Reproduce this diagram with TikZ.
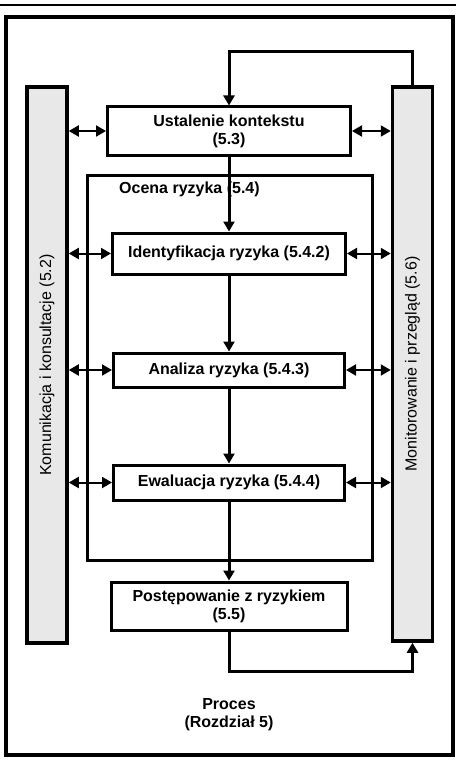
\documentclass[tikz,border=0pt]{standalone}
\usepackage{graphicx}
\usepackage{fontspec}
\setmainfont{Liberation Sans}
\usetikzlibrary{arrows.meta,positioning}

\begin{document}
\begin{tikzpicture}[x=1pt,y=-1pt,node distance=120pt,>={Triangle[length=10pt,width=11pt]},auto]

		\tikzstyle{krok}=[rectangle,draw=black,line width=3pt,fill=white,align=center,font=\bfseries\fontsize{16}{18}\selectfont]
		\tikzstyle{pasek}=[rectangle,draw=black,line width=3.5pt,fill=black!9,minimum width=40pt,font=\fontsize{16}{18}\selectfont]
		\tikzstyle{dwustr}=[<->,line width=2pt]
		\tikzstyle{przeplyw}=[->,line width=3pt]

		\useasboundingbox (0,0) rectangle (456,765);
		\draw [line width=2.5pt] (0,5) -- (456,5);

		\node [rectangle,draw=black,line width=4pt,minimum width=447pt,minimum height=738pt] (proces) at (229.5,386) {};
		\node [rectangle,draw=black,line width=3pt,minimum width=285pt,minimum height=385pt] (ocena) at (229.5,367.5) {};
		\node [anchor=west,inner sep=0pt,font=\bfseries\fontsize{16}{18}\selectfont] (ocenatxt) at (119,189) {Ocena ryzyka (5.4)};

		\node [pasek,minimum height=556pt] (kom) at (47,365) {\rotatebox{90}{Komunikacja i konsultacje (5.2)}};
		\node [pasek,minimum height=554pt] (mon) at (412.5,364) {\rotatebox{90}{Monitorowanie i przegląd (5.6)}};

		\node [krok,minimum width=243pt,minimum height=48pt] (ust) at (229,131) {Ustalenie kontekstu\\(5.3)};
		\node [krok,minimum width=233pt,minimum height=41pt] (ident) [below of=ust,node distance=122.5pt] {Identyfikacja ryzyka (5.4.2)};
		\node [krok,minimum width=231pt,minimum height=34pt] (anal) [below of=ident,node distance=116.5pt] {Analiza ryzyka (5.4.3)};
		\node [krok,minimum width=231pt,minimum height=35pt] (ewal) [below of=anal,node distance=112.5pt] {Ewaluacja ryzyka (5.4.4)};
		\node [krok,minimum width=236pt,minimum height=48pt] (post) [below of=ewal,node distance=123.5pt] {Postępowanie z ryzykiem\\(5.5)};

		\node [align=center,font=\bfseries\fontsize{16}{18}\selectfont] (etykieta) at (229,715) {Proces\\(Rozdział 5)};

		% przeplyw w dol
		\draw [przeplyw] (ust) -- (ident);
		\draw [przeplyw] (ident) -- (anal);
		\draw [przeplyw] (anal) -- (ewal);
		\draw [przeplyw] (ewal) -- (post);

		% komunikacja i monitorowanie
		\foreach \k in {ust,ident,anal,ewal}
		{
			\draw [dwustr] (\k.west -| kom.east) -- (\k.west);
			\draw [dwustr] (\k.east) -- (\k.east -| mon.west);
		}

		% petle zwrotne
		\coordinate (gora) at (229,52);
		\coordinate (dol) at (229,671);
		\draw [przeplyw] (mon.north) |- (gora) -- (ust.north);
		\draw [przeplyw] (post.south) -- (dol) -| (mon.south);

\end{tikzpicture}
\end{document}
